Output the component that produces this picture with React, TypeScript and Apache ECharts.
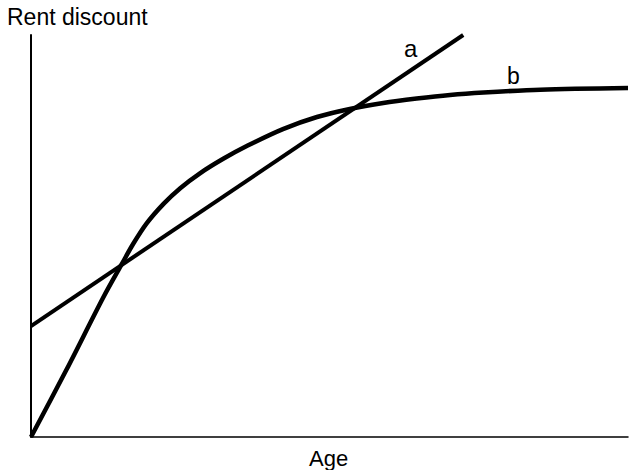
import React, { useEffect, useRef } from "react";
import * as echarts from "echarts";

// Line a: straight line (age, rent discount)
const lineA: [number, number][] = [
  [0, 27.6],
  [72.4, 100],
];

// Curve b: concave curve levelling off
const curveB: [number, number][] = [
  [0, 0],
  [6.0, 16.9],
  [12.1, 34.7],
  [15.2, 43.0],
  [17.1, 48.0],
  [19.4, 53.2],
  [22.2, 58.0],
  [25.0, 61.9],
  [28.3, 65.6],
  [32.2, 69.2],
  [36.3, 72.5],
  [42.2, 76.6],
  [47.9, 79.6],
  [53.4, 81.6],
  [59.0, 83.1],
  [64.6, 84.2],
  [70.2, 85.1],
  [75.8, 85.7],
  [85.3, 86.4],
  [100, 86.8],
];

const yTitle = "Rent discount";
const xTitle = "Age";
const seriesNames = ["a", "b"];

export default function App() {
  const ref = useRef<HTMLDivElement>(null);
  useEffect(() => {
    document.body.style.margin = "0";
    const chart = echarts.init(ref.current!, null, { renderer: "svg" });
    const font = "'Liberation Sans', Arial, sans-serif";
    chart.setOption({
      animation: false,
      backgroundColor: "#ffffff",
      grid: { left: 31, right: 1, top: 35, bottom: 33 },
      xAxis: {
        type: "value",
        min: 0,
        max: 100,
        axisLine: { show: true, lineStyle: { color: "#000", width: 1.5 } },
        axisTick: { show: false },
        axisLabel: { show: false },
        splitLine: { show: false },
      },
      yAxis: {
        type: "value",
        min: 0,
        max: 100,
        axisLine: { show: true, lineStyle: { color: "#000", width: 2 } },
        axisTick: { show: false },
        axisLabel: { show: false },
        splitLine: { show: false },
      },
      series: [
        {
          name: seriesNames[0],
          type: "line",
          data: lineA,
          symbol: "none",
          lineStyle: { color: "#000", width: 4 },
        },
        {
          name: seriesNames[1],
          type: "line",
          data: curveB,
          symbol: "none",
          smooth: 0.3,
          lineStyle: { color: "#000", width: 4.5, join: "round" },
        },
      ],
      graphic: [
        {
          type: "text",
          left: 7,
          top: 5,
          style: { text: yTitle, font: `23px ${font}`, fill: "#000" },
        },
        {
          type: "text",
          left: 309,
          top: 447,
          style: { text: xTitle, font: `22px ${font}`, fill: "#000" },
        },
        {
          type: "text",
          left: 404,
          top: 36,
          style: { text: seriesNames[0], font: `24px ${font}`, fill: "#000" },
        },
        {
          type: "text",
          left: 507,
          top: 64,
          style: { text: seriesNames[1], font: `23px ${font}`, fill: "#000" },
        },
      ],
    });
    return () => chart.dispose();
  }, []);
  return <div ref={ref} style={{ width: 629, height: 470 }} />;
}
